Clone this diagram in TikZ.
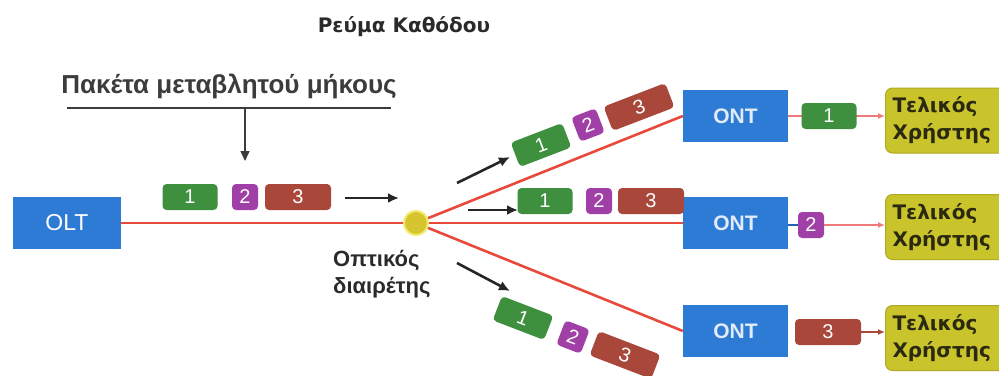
\documentclass[tikz,border=0pt]{standalone}
\usepackage{fontspec}
\setmainfont{Liberation Sans}
\newfontfamily\dejavu{DejaVu Sans}
\usetikzlibrary{arrows.meta}

\definecolor{unitblue}{HTML}{2E7BD6}
\definecolor{onttext}{HTML}{E2ECF8}
\definecolor{fiber}{HTML}{E8493A}
\definecolor{fiberthin}{HTML}{EE7A7A}
\definecolor{pkgreen}{HTML}{3E8F3E}
\definecolor{pkpurple}{HTML}{A03FA6}
\definecolor{pkbrown}{HTML}{A8473A}
\definecolor{userfill}{HTML}{C9C32C}
\definecolor{userborder}{HTML}{B0A922}
\definecolor{usertext}{HTML}{2B2A10}
\definecolor{splitfill}{HTML}{D6C52E}
\definecolor{splitring}{HTML}{F2EA6A}
\definecolor{darktext}{HTML}{2A2A2A}
\definecolor{captiontext}{HTML}{3C3C3C}
\definecolor{stubblue}{HTML}{2A5FB8}

\begin{document}
\begin{tikzpicture}[x=1pt,y=-1pt,
  unit/.style={fill=unitblue, minimum width=105pt, minimum height=52pt, inner sep=0pt},
  packet/.style={rounded corners=4pt, minimum height=26pt, inner sep=0pt, text=white,
    font=\fontsize{20}{20}\selectfont},
  pone/.style={packet, fill=pkgreen, minimum width=55pt},
  ptwo/.style={packet, fill=pkpurple, minimum width=26pt},
  pthree/.style={packet, fill=pkbrown, minimum width=66pt},
  user/.style={fill=userfill, draw=userborder, line width=1pt, rounded corners=7pt,
    minimum height=65pt, text width=112pt, inner xsep=7pt, align=left, anchor=west,
    text=usertext, font=\dejavu\bfseries\fontsize{20}{27}\selectfont},
  fiberline/.style={draw=fiber, line width=2.6pt},
  tapline/.style={draw=fiberthin, line width=1.4pt, -{Latex[length=7pt,width=6pt]}},
  flow/.style={draw=black!85, line width=2.6pt, -{Latex[length=11pt,width=10pt]}},
]
\useasboundingbox (0,0) rectangle (999,375);

% headings
\node[font=\dejavu\bfseries\fontsize{20}{20}\selectfont, text=darktext] (title) at (404,27) {Ρεύμα Καθόδου};
\node[font=\bfseries\fontsize{26}{26}\selectfont, text=captiontext] (caption) at (229,86) {Πακέτα μεταβλητού μήκους};
\coordinate (ruleL) at (67,108);
\coordinate (ruleR) at (391,108);
\coordinate (ruleM) at (245,108);
\coordinate (dropTip) at (245,161);
\draw[captiontext, line width=1.5pt] (ruleL) -- (ruleR);
\draw[captiontext, line width=1.5pt, -{Triangle[length=10pt,width=9pt]}] (ruleM) -- (dropTip);

% optical line terminal and splitter
\node[unit, minimum width=108pt, text=white, font=\fontsize{23}{23}\selectfont] (olt) at (67,223) {OLT};
\node[circle, fill=splitfill, draw=splitring, line width=2pt, minimum size=24pt, inner sep=0pt] (split) at (416,223) {};
\node[text=darktext, align=left, font=\bfseries\fontsize{22}{27}\selectfont, anchor=north west, inner sep=0pt] (splitlbl) at (333,250) {Οπτικός\\διαιρέτης};

% network terminals
\node[unit, text=onttext, font=\bfseries\fontsize{21}{21}\selectfont] (ont1) at (735.5,116) {ONT};
\node[unit, text=onttext, font=\bfseries\fontsize{21}{21}\selectfont] (ont2) at (735.5,223) {ONT};
\node[unit, text=onttext, font=\bfseries\fontsize{21}{21}\selectfont] (ont3) at (735.5,331) {ONT};

% end users
\node[user] (u1) at (885,120.5) {Τελικός\\Χρήστης};
\node[user] (u2) at (885,227) {Τελικός\\Χρήστης};
\node[user] (u3) at (885,338) {Τελικός\\Χρήστης};

% fibre
\draw[fiberline] (olt.east) -- (split);
\draw[fiberline] (split) -- (ont1.west);
\draw[fiberline] (split) -- (ont2.west);
\draw[fiberline] (split) -- (ont3.west);

% packets on the feeder
\node[pone] (a1) at (190,197) {1};
\node[ptwo] (a2) at (245,197) {2};
\node[pthree] (a3) at (298,197) {3};
\coordinate (fa) at (345,198);
\coordinate (fb) at (399,198);
\draw[flow] (fa) -- (fb);

% packets on the upper branch
\node[pone, rotate=21] (b1) at (541,145) {1};
\node[ptwo, rotate=21] (b2) at (588,125) {2};
\node[pthree, rotate=21] (b3) at (639,107) {3};
\coordinate (ba) at (457,183);
\coordinate (bb) at (510,157);
\draw[flow] (ba) -- (bb);

% packets on the middle branch
\node[pone] (c1) at (545,201) {1};
\node[ptwo] (c2) at (599,201) {2};
\node[pthree] (c3) at (651,201) {3};
\coordinate (ca) at (468,210);
\coordinate (cb) at (518,210);
\draw[flow] (ca) -- (cb);

% packets on the lower branch
\node[pone, rotate=-21] (d1) at (523,318) {1};
\node[ptwo, rotate=-21] (d2) at (573,337) {2};
\node[pthree, rotate=-21] (d3) at (625,355) {3};
\coordinate (da) at (457,263);
\coordinate (db) at (510,291);
\draw[flow] (da) -- (db);

% delivery to each user
\draw[tapline] (ont1.east) -- (ont1.east -| u1.west);
\node[pone] (e1) at (829,116) {1};

\node[ptwo] (e2) at (811,225) {2};
\draw[stubblue, line width=1.6pt] (ont2.east |- e2) -- (e2.west);
\draw[tapline] (e2.east) -- (e2.east -| u2.west);

\node[pthree] (e3) at (828,332) {3};
\draw[pkbrown, line width=1.6pt, -{Latex[length=7pt,width=6pt]}] (e3.east) -- (e3.east -| u3.west);
\end{tikzpicture}
\end{document}
